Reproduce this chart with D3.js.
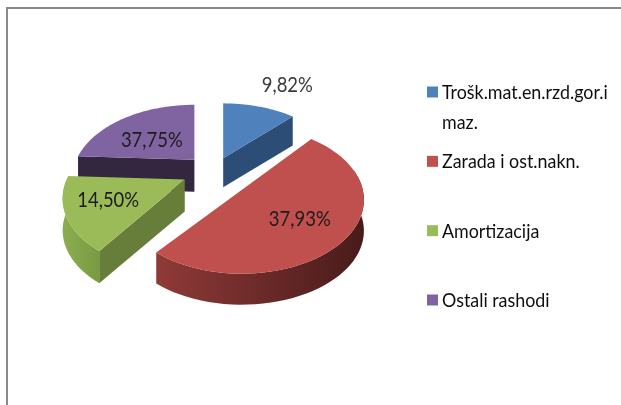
<!DOCTYPE html>
<html>
<head>
<meta charset="utf-8">
<script src="https://cdn.jsdelivr.net/npm/d3@7"></script>
<style>
  html, body { margin: 0; padding: 0; background: #fff; }
  svg { display: block; }
  text { font-family: Lato, "Open Sans", sans-serif; }
</style>
</head>
<body>
<svg id="container" width="621" height="405"></svg>
<script>
const categories = ['Trošk.mat.en.rzd.gor.i maz.', 'Zarada i ost.nakn.', 'Amortizacija', 'Ostali rashodi'];
// printed labels, as they stand in the picture
const labels = ['9,82%', '37,93%', '14,50%', '37,75%'];
// share of the pie each slice really takes up when drawn
const shares = [12.3, 47.4, 16.1, 24.2];
const legendLines = [['Trošk.mat.en.rzd.gor.i', 'maz.'], ['Zarada i ost.nakn.'], ['Amortizacija'], ['Ostali rashodi']];

const topColors = ['#4f81bd', '#c0504d', '#9bbb59', '#8064a2'];
const cutColors = ['#2c4d75', '#4a1c1b', '#677d3a', '#33263f'];
const wallFrom = ['#3a6496', '#8f3a38', '#8cad4f', '#4d3b62'];
const wallTo = ['#2c4d75', '#481b1a', '#7a9a42', '#33263f'];

const cx = 213, cy = 174, rx = 118, ry = 69, tilt = 0.257;
const depths = [29, 31, 32, 32];
const explodeX = 27, explodeY = 17;
const sliceShift = [[0, 0], [8, -4], [-4, -2], [0, -2]];
const labelRadius = [1.5, 0.55, 0.7, 0.55];
const labelNudge = [[15, -4], [3, 11], [4, -3], [-2, 4]];

const svg = d3.select('#container');
const defs = svg.append('defs');

defs.append('filter').attr('id', 'soft')
  .append('feGaussianBlur').attr('stdDeviation', 0.35);

const arcs = d3.pie().sort(null).value(function(d){ return d; })(shares);

function project(angle, r, i) {
  const u = Math.sin(angle) * r;
  const v = -Math.cos(angle) * r;
  const s = 1 / (1 - tilt * v);
  const mid = (arcs[i].startAngle + arcs[i].endAngle) / 2;
  return [
    cx + Math.sin(mid) * explodeX + sliceShift[i][0] + rx * u * s,
    cy - Math.cos(mid) * explodeY + sliceShift[i][1] + ry * v * s
  ];
}

function rim(d, i) {
  const n = 60;
  return d3.range(n + 1).map(function(k){
    return project(d.startAngle + (d.endAngle - d.startAngle) * k / n, 1, i);
  });
}

function narrow(selection, squeeze) {
  selection.each(function(){
    this.setAttribute('textLength', this.getComputedTextLength() * squeeze);
    this.setAttribute('lengthAdjust', 'spacingAndGlyphs');
  });
}

const line = d3.line();
const closed = d3.line().curve(d3.curveLinearClosed);

// back slices first, so the front ones overlap them
const order = [3, 0, 2, 1];

const pieGroup = svg.append('g');

order.forEach(function(i){
  const d = arcs[i];
  const g = pieGroup.append('g');
  const pts = rim(d, i);
  const apex = project(0, 0, i);
  const first = pts[0], last = pts[pts.length - 1];
  const down = function(p) { return [p[0], p[1] + depths[i]]; };

  // cut faces
  if (i === 0) {
    g.append('path').attr('d', closed([apex, last, down(last), down(apex)])).attr('fill', cutColors[i]);
  }
  if (i === 2 || i === 3) {
    g.append('path').attr('d', closed([apex, first, down(first), down(apex)])).attr('fill', cutColors[i]);
  }

  // outer wall, only the part facing the viewer
  const front = pts.filter(function(p, k){
    const a = d.startAngle + (d.endAngle - d.startAngle) * k / 60;
    return -Math.cos(a) > -0.2;
  });
  if (i === 1 || i === 2) {
    const id = 'wall' + i;
    const xs = d3.extent(front, function(p){ return p[0]; });
    const grad = defs.append('linearGradient').attr('id', id)
      .attr('gradientUnits', 'userSpaceOnUse')
      .attr('x1', xs[0]).attr('x2', xs[1]).attr('y1', 0).attr('y2', 0);
    grad.append('stop').attr('offset', 0).attr('stop-color', wallFrom[i]);
    grad.append('stop').attr('offset', 1).attr('stop-color', wallTo[i]);
    g.append('path')
      .attr('d', closed(front.concat(front.slice().reverse().map(down))))
      .attr('fill', 'url(#' + id + ')');
  }

  // top face, the red one has a straight cut edge in the picture so it skips the apex
  g.append('path')
    .attr('d', closed(i === 1 ? pts : [apex].concat(pts)))
    .attr('fill', topColors[i]);
});

// slice labels
const labelData = arcs.map(function(d, i){
  const mid = (d.startAngle + d.endAngle) / 2;
  const p = project(mid, labelRadius[i], i);
  return { text: labels[i], x: p[0] + labelNudge[i][0], y: p[1] + labelNudge[i][1], i: i };
});

svg.append('g').attr('filter', 'url(#soft)').selectAll('text')
  .data(labelData)
  .join('text')
  .attr('x', function(d){ return d.x; })
  .attr('y', function(d){ return d.y; })
  .attr('dy', '0.36em')
  .attr('text-anchor', 'middle')
  .attr('font-size', 22)
  .attr('fill', function(d){ return d.i === 0 ? '#3a3a3a' : '#1c1c1c'; })
  .text(function(d){ return d.text; })
  .call(narrow, 0.84);

// legend
const legendY = d3.scalePoint().domain(categories).range([92, 300]);

const legend = svg.append('g').selectAll('g')
  .data(categories)
  .join('g')
  .attr('transform', function(d){ return 'translate(427,' + legendY(d) + ')'; });

legend.append('rect')
  .attr('y', -5.5)
  .attr('width', 11)
  .attr('height', 11)
  .attr('fill', function(d, i){ return topColors[i]; });

legend.each(function(d, i){
  d3.select(this).selectAll('text')
    .data(legendLines[i])
    .join('text')
    .attr('x', 15)
    .attr('y', function(t, k){ return k * 30; })
    .attr('dy', '0.36em')
    .attr('font-size', 19)
    .attr('fill', '#111')
    .attr('filter', 'url(#soft)')
    .text(function(t){ return t; })
    .call(narrow, 0.94);
});

// frame, only top and left show in the crop
svg.append('path')
  .attr('d', line([[7, 405], [7, 8], [621, 8]]))
  .attr('fill', 'none')
  .attr('stroke', '#8a8a8a')
  .attr('stroke-width', 2);
</script>
</body>
</html>
